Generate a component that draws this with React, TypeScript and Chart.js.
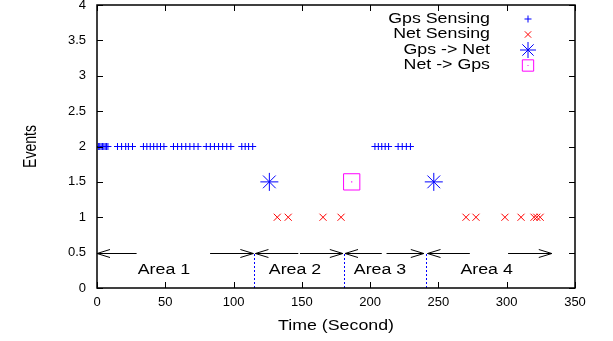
import React, { useEffect, useRef } from 'react';
import { Chart, registerables } from 'chart.js';
import { drawPoint } from 'chart.js/helpers';
Chart.register(...registerables);

// ---------- data ----------
const gpsSensingTimes = [1, 2, 3, 4, 5, 6, 7, 8, 15, 18, 21, 23, 26, 34, 36.5, 39, 41.5, 44, 46.5, 49, 56, 59, 62, 65, 68, 71, 74, 80, 83, 86, 89, 92, 95, 98, 106, 108.5, 111, 114, 203.5, 206, 208.5, 211, 213.5, 220.5, 223.5, 226.5, 229.5];
const gpsSensingLevel = 2;
const netSensingTimes = [132, 140, 165.5, 178.7, 270.2, 277.5, 298.7, 310.5, 320, 322, 324.5];
const netSensingLevel = 1;
const gpsToNetTimes = [126.2, 246.6];
const netToGpsTimes = [186.5];
const switchLevel = 1.5;

const areaNames = ['Area 1', 'Area 2', 'Area 3', 'Area 4'];
const areaStart = [0, 116, 181.6, 242];
const areaEnd = [114.5, 180, 239.3, 333];
const areaGapStart = [29, 147.4, 208.5, 273];
const areaGapEnd = [82.8, 148.6, 212, 301];
const areaLabelX = [49, 145, 207.2, 285.3];
const areaBoundaries = [115, 180.5, 240.6];
const arrowLevel = 0.5;
const areaLabelLevel = 0.25;

const legendLabels = ['Gps Sensing', 'Net Sensing', 'Gps -> Net', 'Net -> Gps'];
const xTickValues = [0, 50, 100, 150, 200, 250, 300, 350];
const yTickValues = [0, 0.5, 1, 1.5, 2, 2.5, 3, 3.5, 4];
const xTitle = 'Time (Second)';
const yTitle = 'Events';

// ---------- styles ----------
const FONT = '"Liberation Sans", Arial, Helvetica, sans-serif';
const STRETCH = 1.27;
const BLUE = '#0000ff';
const RED = '#ff0000';
const MAGENTA = '#ff00ff';

const seriesStyles = [
  { pointStyle: 'cross', radius: 3.5, color: BLUE },
  { pointStyle: 'crossRot', radius: 5, color: RED },
  { pointStyle: 'star', radius: 9, color: BLUE },
  { pointStyle: 'rect', radius: 11.5, color: MAGENTA },
];

function stretchedText(ctx: CanvasRenderingContext2D, text: string, x: number, y: number, align: CanvasTextAlign, size: number, rotate = false) {
  ctx.save();
  ctx.font = `${size}px ${FONT}`;
  ctx.fillStyle = '#000';
  ctx.textBaseline = 'middle';
  ctx.textAlign = align;
  ctx.translate(x, y);
  ctx.scale(STRETCH, 1);
  if (rotate) ctx.rotate(-Math.PI / 2);
  ctx.fillText(text, 0, 0);
  ctx.restore();
}

const annotationPlugin = {
  id: 'areaAnnotations',
  beforeDatasetsDraw(chart: any) {
    const { ctx, scales } = chart;
    const x = scales.x, y = scales.y;
    ctx.save();
    ctx.strokeStyle = BLUE;
    ctx.lineWidth = 1;
    ctx.setLineDash([2, 2]);
    for (const b of areaBoundaries) {
      const px = Math.round(x.getPixelForValue(b)) + 0.5;
      ctx.beginPath();
      ctx.moveTo(px, y.getPixelForValue(0));
      ctx.lineTo(px, y.getPixelForValue(arrowLevel));
      ctx.stroke();
    }
    ctx.setLineDash([]);
    ctx.strokeStyle = '#000';
    ctx.lineWidth = 1;
    const ay = Math.round(y.getPixelForValue(arrowLevel)) + 0.5;
    for (let i = 0; i < areaNames.length; i++) {
      const x0 = x.getPixelForValue(areaStart[i]);
      const g0 = x.getPixelForValue(areaGapStart[i]);
      const g1 = x.getPixelForValue(areaGapEnd[i]);
      const x1 = x.getPixelForValue(areaEnd[i]);
      ctx.beginPath();
      ctx.moveTo(x0, ay); ctx.lineTo(g0, ay);
      ctx.moveTo(g1, ay); ctx.lineTo(x1, ay);
      ctx.moveTo(x0 + 13, ay - 4); ctx.lineTo(x0, ay); ctx.lineTo(x0 + 13, ay + 4);
      ctx.moveTo(x1 - 13, ay - 4); ctx.lineTo(x1, ay); ctx.lineTo(x1 - 13, ay + 4);
      ctx.stroke();
      stretchedText(ctx, areaNames[i], x.getPixelForValue(areaLabelX[i]), y.getPixelForValue(areaLabelLevel), 'center', 14);
    }
    ctx.restore();
  },
};

const framePlugin = {
  id: 'gnuFrame',
  afterDatasetsDraw(chart: any) {
    const { ctx, chartArea, scales } = chart;
    const x = scales.x, y = scales.y;
    const { left, right, top, bottom } = chartArea;
    ctx.save();
    ctx.strokeStyle = '#000';
    ctx.lineWidth = 1;
    ctx.beginPath();
    const tl = 6;
    for (const v of xTickValues) {
      const px = Math.round(x.getPixelForValue(v)) + 0.5;
      ctx.moveTo(px, bottom); ctx.lineTo(px, bottom - tl);
      ctx.moveTo(px, top); ctx.lineTo(px, top + tl);
    }
    for (const v of yTickValues) {
      const py = Math.round(y.getPixelForValue(v)) + 0.5;
      ctx.moveTo(left, py); ctx.lineTo(left + tl, py);
      ctx.moveTo(right, py); ctx.lineTo(right - tl, py);
    }
    ctx.stroke();
    ctx.lineWidth = 1.5;
    ctx.strokeRect(left, top, right - left, bottom - top);
    ctx.restore();
    stretchedText(ctx, xTitle, (left + right) / 2, 326, 'center', 14);
    stretchedText(ctx, yTitle, 31, (top + bottom) / 2, 'center', 14, true);
  },
};

const legendPlugin = {
  id: 'gnuLegend',
  afterDraw(chart: any) {
    const { ctx } = chart;
    const rows = [19, 34.5, 50, 65.5];
    for (let i = 0; i < legendLabels.length; i++) {
      stretchedText(ctx, legendLabels[i], 490, rows[i], 'right', 14);
      const s = seriesStyles[i];
      ctx.save();
      ctx.strokeStyle = s.color;
      ctx.fillStyle = 'rgba(0,0,0,0)';
      ctx.lineWidth = 1;
      const r = i === 0 ? 3.5 : i === 1 ? 4.5 : 8;
      drawPoint(ctx, { pointStyle: s.pointStyle as any, radius: r, rotation: 0, borderWidth: 1 }, 528, rows[i]);
      if (i === 3) {
        ctx.fillStyle = s.color;
        ctx.fillRect(527.5, rows[i] - 0.5, 1, 1);
      }
      ctx.restore();
    }
  },
};

export default function App() {
  const ref = useRef<HTMLCanvasElement | null>(null);
  useEffect(() => {
    if (!ref.current) return;
    const mk = (times: number[], level: number) => times.map((t) => ({ x: t, y: level }));
    const ds = (label: string, data: any[], i: number) => ({
      label,
      data,
      showLine: false,
      pointStyle: seriesStyles[i].pointStyle,
      pointRadius: seriesStyles[i].radius,
      pointHoverRadius: seriesStyles[i].radius,
      borderColor: seriesStyles[i].color,
      backgroundColor: 'rgba(0,0,0,0)',
      pointBorderWidth: 1,
      borderWidth: 1,
    });
    const chart = new Chart(ref.current, {
      type: 'scatter',
      data: {
        datasets: [
          ds(legendLabels[0], mk(gpsSensingTimes, gpsSensingLevel), 0),
          ds(legendLabels[1], mk(netSensingTimes, netSensingLevel), 1),
          ds(legendLabels[2], mk(gpsToNetTimes, switchLevel), 2),
          ds(legendLabels[3], mk(netToGpsTimes, switchLevel), 3),
          {
            label: 'center',
            data: mk(netToGpsTimes, switchLevel),
            showLine: false,
            pointStyle: 'rect',
            pointRadius: 0.8,
            backgroundColor: MAGENTA,
            borderColor: MAGENTA,
            pointBorderWidth: 0,
          } as any,
        ],
      },
      options: {
        responsive: false,
        animation: false,
        events: [],
        layout: { autoPadding: false, padding: { left: 0, right: 38, top: 5, bottom: 0 } },
        plugins: { legend: { display: false }, tooltip: { enabled: false } },
        scales: {
          x: {
            type: 'linear',
            min: 0,
            max: 350,
            grid: { display: false, drawTicks: false },
            border: { display: false },
            ticks: { stepSize: 50, autoSkip: false, maxRotation: 0, padding: 7, color: '#000', font: { family: FONT, size: 13 } },
            afterFit: (s: any) => { s.height = 53; s.paddingLeft = 0; s.paddingRight = 0; },
          },
          y: {
            type: 'linear',
            min: 0,
            max: 4,
            grid: { display: false, drawTicks: false },
            border: { display: false },
            ticks: {
              stepSize: 0.5,
              autoSkip: false,
              padding: 11,
              color: '#000',
              font: { family: FONT, size: 13 },
              callback: (v: any) => String(Number(v)),
            },
            afterFit: (s: any) => { s.width = 97; s.paddingTop = 0; s.paddingBottom = 0; },
          },
        },
      },
      plugins: [annotationPlugin, framePlugin, legendPlugin],
    } as any);
    return () => chart.destroy();
  }, []);
  return (
    <div style={{ position: 'fixed', left: 0, top: 0, width: 613, height: 341, background: '#fff' }}>
      <canvas ref={ref} width={613} height={341} style={{ display: 'block' }} />
    </div>
  );
}
